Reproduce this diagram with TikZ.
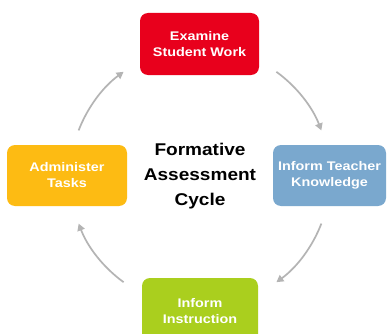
\documentclass[tikz,border=0pt]{standalone}
\usepackage{fontspec}
\setmainfont{Liberation Sans}
\newfontfamily\boxfont[FakeStretch=1.15]{Liberation Sans}
\newfontfamily\centerfont[FakeStretch=1.12]{Liberation Sans}
\usetikzlibrary{arrows.meta}
\definecolor{cred}{RGB}{232,0,28}
\definecolor{cyellow}{RGB}{253,187,19}
\definecolor{cblue}{RGB}{122,168,206}
\definecolor{cgreen}{RGB}{170,207,30}
\definecolor{carrow}{RGB}{180,180,180}
\tikzset{
  stagebox/.style={rounded corners=8pt, inner sep=0pt, align=center, text=white,
    font=\boxfont\bfseries\fontsize{12.5}{16}\selectfont},
  cyclearrow/.style={draw=carrow, line width=1.7pt, -{Triangle[length=7pt,width=7.5pt]}},
}
\begin{document}
\begin{tikzpicture}[x=1pt,y=1pt]
\useasboundingbox (0,0) rectangle (389,333);
\clip (0,0) rectangle (389,333);
\fill[white] (0,0) rectangle (389,333);
\coordinate (C) at (200,156);
\node[stagebox, fill=cred, minimum width=119pt, minimum height=62pt] (examine) at (199.5,289) {Examine\\Student Work};
\node[stagebox, fill=cyellow, minimum width=120pt, minimum height=61pt] (administer) at (67,157.5) {Administer\\Tasks};
\node[stagebox, fill=cblue, minimum width=113pt, minimum height=61pt] (inform) at (329.5,157.5) {Inform Teacher\\Knowledge};
\node[stagebox, fill=cgreen, minimum width=116pt, minimum height=66pt] (instruction) at (200,22) {Inform\\Instruction};
\node[align=center, font=\centerfont\bfseries\fontsize{17}{25}\selectfont, text=black] (title) at (200,157) {Formative\\Assessment\\Cycle};
\coordinate (a1s) at ([shift={(159:130)}]C);
\coordinate (a2s) at ([shift={(54:130)}]C);
\coordinate (a3s) at ([shift={(-21:130)}]C);
\coordinate (a4s) at ([shift={(-126:130)}]C);
\draw[cyclearrow] (a1s) arc[start angle=159, end angle=126, radius=130];
\draw[cyclearrow] (a2s) arc[start angle=54, end angle=21, radius=130];
\draw[cyclearrow] (a3s) arc[start angle=-21, end angle=-54, radius=130];
\draw[cyclearrow] (a4s) arc[start angle=-126, end angle=-159, radius=130];
\end{tikzpicture}
\end{document}
